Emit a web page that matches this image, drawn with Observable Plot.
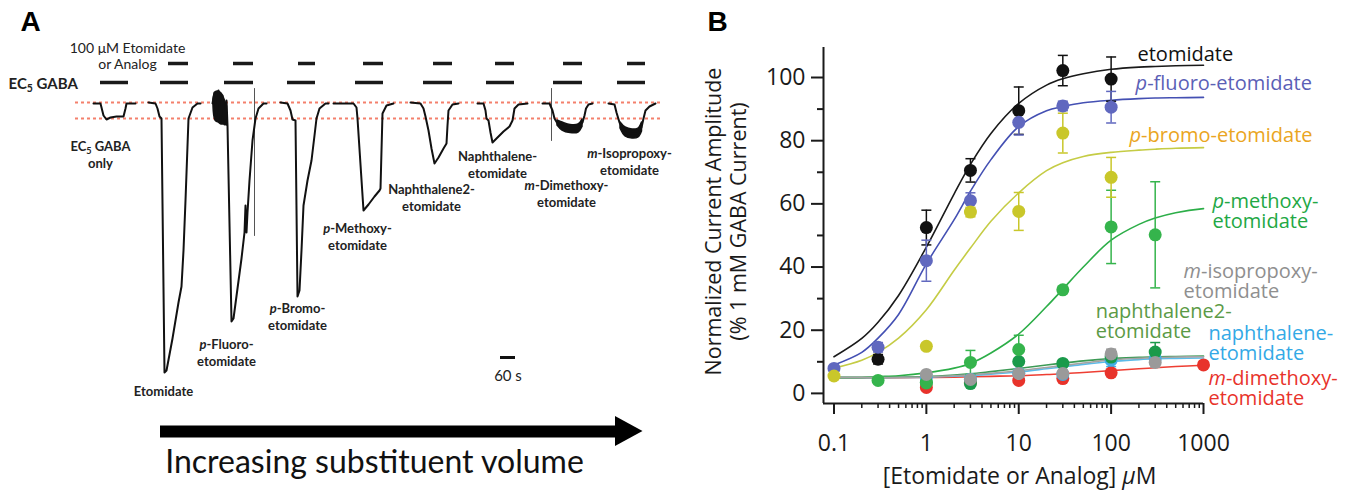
<!DOCTYPE html>
<html><head><meta charset="utf-8">
<script src="https://cdn.jsdelivr.net/npm/d3@7"></script>
<script src="https://cdn.jsdelivr.net/npm/@observablehq/plot@0.6"></script>
<style>
html,body{margin:0;padding:0;background:#fff;}
#wrap{display:flex;width:1356px;height:496px;overflow:hidden;background:#fff;}
#wrap svg{display:block;flex:none;}
</style></head><body><div id="wrap"></div>
<script>
// ================= Panel A data: recorded current traces =================
// time in s, current in nA (baseline = 0, inward current negative)
const ec5OnlyTrace = [[372,0],[400,0],[412,-120],[424,-160],[440,-140],[464,-130],[492,-130],[500,-50],[504,0],[540,0]];
const etomidateTrace = [[592,10],[620,0],[628,-50],[636,-130],[644,-150],[656,-2690],[664,-2670],[688,-2350],[712,-1990],[724,-1830],[732,-1470],[740,-970],[752,-150],[768,-40],[788,0],[800,0]];
const pFluoroTrace = [[848,0],[856,110],[864,-120],[872,130],[880,-170],[888,80],[896,-210],[904,30],[908,-220],[924,-2180],[932,-2150],[948,-1850],[964,-1550],[976,-1290],[980,-1020],[984,-1290],[988,-1090],[996,-770],[1008,-370],[1020,-150],[1032,-50],[1052,0],[1064,0]];
const pBromoTrace = [[1120,10],[1148,0],[1160,-70],[1168,-160],[1180,-170],[1188,-1930],[1196,-1870],[1204,-1470],[1212,-1020],[1228,-770],[1244,-570],[1256,-320],[1264,-150],[1276,-50],[1300,0],[1312,0]];
const pMethoxyTrace = [[1332,0],[1412,0],[1424,-40],[1428,-150],[1452,-1070],[1472,-1010],[1496,-930],[1516,-870],[1520,-850],[1524,-470],[1528,-100],[1544,-20],[1572,0]];
const naphthalene2Trace = [[1640,10],[1680,0],[1692,-50],[1700,-130],[1712,-270],[1724,-450],[1736,-600],[1752,-540],[1772,-450],[1784,-400],[1788,-220],[1792,-70],[1808,-10],[1832,0]];
const naphthaleneTrace = [[1908,0],[1932,0],[1940,-70],[1944,-150],[1952,-170],[1960,-290],[1968,-390],[1988,-340],[2012,-280],[2036,-230],[2048,-170],[2056,-50],[2072,-10],[2108,0]];
const mDimethoxyTrace = [[2168,0],[2196,0],[2208,-70],[2216,-150],[2228,-200],[2248,-230],[2280,-250],[2312,-245],[2328,-190],[2336,-120],[2342,-50],[2352,-10],[2368,0]];
const mIsopropoxyTrace = [[2432,0],[2456,-10],[2464,-90],[2476,-190],[2492,-270],[2504,-300],[2528,-305],[2552,-295],[2564,-240],[2572,-150],[2580,-70],[2596,-30],[2620,0]];
const artifactSpikes = [[[1016,150],[1016,-1320]], [[2204,150],[2204,-370]]];
// current-noise envelopes [t, low, high]
const pFluoroNoise = [[852,-30,40],[860,-170,110],[872,-190,120],[884,-210,100],[896,-210,40],[906,-220,-30]];
const mDimethoxyNoise = [[2228,-220,-170],[2248,-270,-190],[2280,-295,-215],[2312,-290,-210],[2328,-235,-160]];
const mIsopropoxyNoise = [[2480,-250,-190],[2500,-330,-240],[2528,-350,-260],[2552,-340,-250],[2566,-280,-190]];
// application periods [start, end] in s
const gabaApplications = [[400,512],[640,752],[896,1012],[1148,1260],[1420,1532],[1692,1808],[1944,2056],[2212,2328],[2468,2580]];
const drugApplications = [[672,752],[932,1012],[1192,1260],[1452,1532],[1732,1808],[1980,2056],[2252,2328],[2508,2580]];
const referenceLevels = [10, -150];      // baseline and EC5 response level (nA)
const referenceSpan = [300, 2648];       // s
const scaleBar = {start: 2000, seconds: 60, level: -2540};
const traceLabels = [
  {t: 400,  i: -510,  text: "EC5 GABA\nonly"},
  {t: 652,  i: -2870, text: "Etomidate"},
  {t: 904,  i: -2490, text: "p-Fluoro-\netomidate"},
  {t: 1188, i: -2130, text: "p-Bromo-\netomidate"},
  {t: 1428, i: -1330, text: "p-Methoxy-\netomidate"},
  {t: 1724, i: -940,  text: "Naphthalene2-\netomidate"},
  {t: 1988, i: -610,  text: "Naphthalene-\netomidate"},
  {t: 2264, i: -900,  text: "m-Dimethoxy-\netomidate"},
  {t: 2516, i: -580,  text: "m-Isopropoxy-\netomidate"}
];

// ================= Panel B data: concentration–response =================
const curveConc = [0.1,0.2,0.3,0.5,1,2,3,5,10,20,30,50,100,200,300,500,1000];

const etoConc = [0.3, 1, 3, 10, 30, 100];
const etoMean = [10.8, 52.5, 70.6, 89.5, 102.2, 99.5];
const etoErr  = [1.5, 5.5, 3.7, 7.5, 4.8, 7];
const etoCurve = [11.6,17.4,22.5,31,46.3,63.2,72.5,82.3,91.8,97.6,99.6,101.2,102.6,103.3,103.5,103.7,103.9];

const pfConc = [0.1, 0.3, 1, 3, 10, 30, 100];
const pfMean = [7.9, 14.6, 42, 61, 85.8, 91, 90.6];
const pfErr  = [1, 1.5, 6.5, 2.5, 4, 1.5, 5];
const pfCurve = [9,13,17.5,25,41,55,64,74,84.5,89.5,90.8,92,92.8,93.3,93.5,93.6,93.7];

const pbConc = [0.1, 1, 3, 10, 30, 100];
const pbMean = [5.5, 14.9, 57.4, 57.6, 82.4, 68.4];
const pbErr  = [0.8, 1, 1.5, 6, 6.3, 6.3];
const pbCurve = [8,10.5,13,17.5,26.5,39,46,54.5,63.5,70.5,73,75,76.3,77,77.3,77.6,77.8];

const pmConc = [0.3, 1, 3, 10, 30, 100, 300];
const pmMean = [4.1, 3.3, 9.8, 13.9, 32.8, 52.7, 50.2];
const pmErr  = [0.8, 0.8, 3.8, 4.5, 1, 11.6, 16.8];
const pmCurve = [5,5.05,5.3,5.6,6.5,8,9.5,12.8,18.8,27.5,33,40,48.5,53.5,55.5,57.2,58.5];

const n2Conc = [1, 3, 10, 30, 100, 300];
const n2Mean = [3.5, 3.1, 10.1, 9.5, 11.5, 13.1];
const n2Err  = [0.8, 0.8, 1, 1, 1, 3];
const n2Curve = [5,5,5.05,5.1,5.3,5.8,6.2,6.9,7.9,9,9.6,10.3,11,11.4,11.6,11.7,11.8];

const nConc = [1, 3, 10, 30, 100, 300];
const nMean = [5, 4.5, 6.4, 6, 10.5, 11];
const nErr  = [0.5, 0.5, 0.8, 0.8, 2, 1];
const nCurve = [5,5,5,5.05,5.15,5.45,5.7,6.1,6.8,7.8,8.4,9.2,10.1,10.7,11,11.1,11.2];

const ipConc = [1, 3, 10, 30, 100, 300];
const ipMean = [6, 4.4, 6.3, 6.3, 12.5, 9.8];
const ipErr  = [0.5, 0.5, 1, 1, 1.5, 1.5];
const ipCurve = [5,5,5,5.05,5.2,5.6,5.9,6.4,7.2,8.2,8.8,9.6,10.6,11.1,11.3,11.5,11.6];

const dmConc = [1, 3, 10, 30, 100, 1000];
const dmMean = [1.9, 3.5, 4.1, 4.7, 6.5, 9.0];
const dmErr  = [0.5, 0.5, 0.5, 0.5, 0.8, 0.8];
const dmCurve = [5,5,5,5,5.05,5.15,5.25,5.4,5.6,6,6.2,6.6,7.2,7.8,8.1,8.5,8.9];

const seriesLabels = [
  {c: 193, v: 107.3, text: "etomidate", color: "#111111"},
  {c: 184, v: 98.1, text: "p-fluoro-etomidate", color: "#5b60b6"},
  {c: 158, v: 81.6, text: "p-bromo-etomidate", color: "#eaa522"},
  {c: 1250, v: 57.6, text: "p-methoxy-\netomidate", color: "#22a844"},
  {c: 608, v: 35.3, text: "m-isopropoxy-\netomidate", color: "#8f8f8f"},
  {c: 68, v: 22.6, text: "naphthalene2-\netomidate", color: "#5b9a46"},
  {c: 1132, v: 15.8, text: "naphthalene-\netomidate", color: "#33a9e6"},
  {c: 1132, v: 1.6, text: "m-dimethoxy-\netomidate", color: "#e8332b"}
];
const yMajor = [0, 20, 40, 60, 80, 100];
const yMinor = [10, 30, 50, 70, 90];
const xMajor = [0.1, 1, 10, 100, 1000];
const xMinor = [0.2,0.3,0.4,0.5,0.6,0.7,0.8,0.9,2,3,4,5,6,7,8,9,20,30,40,50,60,70,80,90,200,300,400,500,600,700,800,900];

// ================= helpers =================
const NS = "http://www.w3.org/2000/svg";
function richText(svg, italicMu) {
  const walker = document.createTreeWalker(svg, NodeFilter.SHOW_TEXT);
  const nodes = []; while (walker.nextNode()) nodes.push(walker.currentNode);
  const mk = (txt, attrs) => { const e = document.createElementNS(NS, "tspan"); for (const k in attrs) e.setAttribute(k, attrs[k]); e.textContent = txt; return e; };
  for (const n of nodes) {
    const s = n.data, p = n.parentNode; let m;
    if ((m = s.match(/^([pm])(-.*)$/))) {
      p.insertBefore(mk(m[1], {"font-style": "italic"}), n); n.data = m[2];
    } else if (s.startsWith("EC5")) {
      p.insertBefore(document.createTextNode("EC"), n);
      p.insertBefore(mk("5", {"font-size": "70%", dy: "3"}), n);
      p.insertBefore(mk(s.slice(3), {dy: "-3"}), n);
      p.removeChild(n);
    } else if (italicMu && s.includes("μM")) {
      const k = s.indexOf("μ");
      p.insertBefore(document.createTextNode(s.slice(0, k)), n);
      p.insertBefore(mk("μ", {"font-style": "italic"}), n);
      n.data = s.slice(k + 1);
    }
  }
}
const capSymbol = {draw(ctx, size) { const w = Math.sqrt(size / Math.PI); ctx.moveTo(-w, 0); ctx.lineTo(w, 0); }};

// ================= Panel A =================
const traces = [ec5OnlyTrace, etomidateTrace, pFluoroTrace, pBromoTrace, pMethoxyTrace, naphthalene2Trace, naphthaleneTrace, mDimethoxyTrace, mIsopropoxyTrace];
const noises = [pFluoroNoise, mDimethoxyNoise, mIsopropoxyNoise];
const plotA = Plot.plot({
  width: 680, height: 496, margin: 0,
  x: {domain: [0, 2720], axis: null}, y: {domain: [-3930, 1030], axis: null},
  style: {fontFamily: "Lato", background: "white", overflow: "visible", maxWidth: "none"},
  marks: [
    Plot.ruleY(referenceLevels, {y: d => d, x1: referenceSpan[0], x2: referenceSpan[1], stroke: "#f4806c", strokeWidth: 1.8, strokeDasharray: "3,3"}),
    Plot.ruleY(gabaApplications, {x1: d => d[0], x2: d => d[1], y: 210, stroke: "#1a1a1a", strokeWidth: 3.5}),
    Plot.ruleY(drugApplications, {x1: d => d[0], x2: d => d[1], y: 400, stroke: "#1a1a1a", strokeWidth: 3.5}),
    ...artifactSpikes.map(s => Plot.line(s, {x: d => d[0], y: d => d[1], stroke: "#555", strokeWidth: 1})),
    ...noises.map(nz => Plot.areaY(nz, {x: d => d[0], y1: d => d[1], y2: d => d[2], fill: "#111", stroke: "#111", strokeWidth: 1.5, curve: "catmull-rom"})),
    ...traces.map(tr => Plot.line(tr, {x: d => d[0], y: d => d[1], stroke: "#111", strokeWidth: 2, strokeLinejoin: "round"})),
    Plot.ruleY([scaleBar], {x1: d => d.start, x2: d => d.start + d.seconds, y: d => d.level, stroke: "#111", strokeWidth: 3}),
    Plot.text([scaleBar], {x: d => d.start + d.seconds / 2, y: d => d.level, text: d => `${d.seconds} s`, dy: 19, fontSize: 15, fill: "#222"}),
    Plot.text(traceLabels, {x: "t", y: "i", text: "text", fontSize: 13, fontWeight: "bold", fill: "#222", lineHeight: 1.3}),
    Plot.text(["100 μM Etomidate\nor Analog"], {x: 508, y: 480, fontSize: 14, fill: "#222", lineHeight: 1.15}),
    Plot.text(["EC5 GABA"], {x: 32, y: 190, textAnchor: "start", fontSize: 15, fontWeight: "bold", fill: "#222"}),
    // arrow: increasing substituent volume
    Plot.ruleY([-3280], {x1: 640, x2: 2470, stroke: "#000", strokeWidth: 12}),
    Plot.areaY([{t: 2460, lo: -3430, hi: -3130}, {t: 2570, lo: -3280, hi: -3280}], {x: "t", y1: "lo", y2: "hi", fill: "#000"}),
    Plot.text(["Increasing substituent volume"], {x: 1496, y: -3590, fontSize: 32, fill: "#111"}),
    Plot.text(["A"], {frameAnchor: "top-left", dx: 30, dy: 22, textAnchor: "middle", lineAnchor: "middle", fontSize: 28, fontWeight: "bold", fontFamily: "Liberation Sans", fill: "#000"})
  ]
});

// ================= Panel B =================
const seriesB = [
  {conc: dmConc, mean: dmMean, err: dmErr, curve: dmCurve, dot: "#e8332b", line: "#ee3e33"},
  {conc: nConc, mean: nMean, err: nErr, curve: nCurve, dot: "#42aee6", line: "#5bbbe9"},
  {conc: n2Conc, mean: n2Mean, err: n2Err, curve: n2Curve, dot: "#1a9a4a", line: "#3c9a55"},
  {conc: pmConc, mean: pmMean, err: pmErr, curve: pmCurve, dot: "#35b44c", line: "#2cae48"},
  {conc: etoConc, mean: etoMean, err: etoErr, curve: etoCurve, dot: "#111111", line: "#1a1a1a"},
  {conc: pfConc, mean: pfMean, err: pfErr, curve: pfCurve, dot: "#6068bf", line: "#4450b3"},
  {conc: pbConc, mean: pbMean, err: pbErr, curve: pbCurve, dot: "#c9c72a", line: "#c5cc45"},
  {conc: ipConc, mean: ipMean, err: ipErr, curve: ipCurve, dot: "#9a9a9a", line: "#a3a3a3"}
];
const pts = s => s.conc.map((c, k) => ({c, v: s.mean[k], e: s.err[k]}));
const crv = s => curveConc.map((c, k) => ({c, v: s.curve[k]}));
const xDom = [0.077, 1000], yDom = [-3.2, 109.5];

const plotB = Plot.plot({
  width: 676, height: 496, marginLeft: 143, marginRight: 153, marginTop: 47, marginBottom: 93,
  x: {type: "log", domain: xDom}, y: {domain: yDom},
  style: {fontFamily: "Open Sans", background: "white", overflow: "visible", maxWidth: "none", color: "#1a1a1a"},
  marks: [
    Plot.axisY({ticks: yMajor, tickSize: 12, tickPadding: 6, fontSize: 23, label: null, strokeWidth: 2}),
    Plot.axisY({ticks: yMinor, tickSize: 6, tickFormat: () => "", label: null, strokeWidth: 2}),
    Plot.axisX({ticks: xMajor, tickSize: 11, tickPadding: 20, fontSize: 23, label: null, tickFormat: d => String(d), strokeWidth: 2}),
    Plot.axisX({ticks: xMinor, tickSize: 5, tickFormat: () => "", label: null, strokeWidth: 1.5}),
    Plot.ruleX([xDom[0]], {strokeWidth: 2}),
    Plot.ruleY([yDom[0]], {strokeWidth: 2}),
    ...seriesB.map(s => Plot.line(crv(s), {x: "c", y: "v", stroke: s.line, strokeWidth: 1.6, curve: "catmull-rom"})),
    ...seriesB.flatMap(s => [
      Plot.ruleX(pts(s), {x: "c", y1: d => d.v - d.e, y2: d => d.v + d.e, stroke: s.dot, strokeWidth: 1.5}),
      Plot.dot(pts(s), {x: "c", y: d => d.v + d.e, symbol: capSymbol, r: 5, stroke: s.dot, fill: "none", strokeWidth: 1.5}),
      Plot.dot(pts(s), {x: "c", y: d => d.v - d.e, symbol: capSymbol, r: 5, stroke: s.dot, fill: "none", strokeWidth: 1.5})
    ]),
    ...seriesB.map(s => Plot.dot(pts(s), {x: "c", y: "v", r: 6.5, fill: s.dot, stroke: "none"})),
    ...seriesLabels.map(l => Plot.text([l], {x: "c", y: "v", text: "text", fill: l.color, textAnchor: "start", lineAnchor: "middle", fontSize: 20, lineHeight: 1.0})),
    Plot.text(["Normalized Current Amplitude\n(% 1 mM GABA Current)"], {frameAnchor: "left", rotate: -90, dx: -98, dy: -4, textAnchor: "middle", lineAnchor: "middle", fontSize: 21.5, lineHeight: 1.16, fill: "#1a1a1a"}),
    Plot.text(["[Etomidate or Analog] μM"], {frameAnchor: "bottom", dx: 6, dy: 73, textAnchor: "middle", lineAnchor: "middle", fontSize: 23, fill: "#1a1a1a"}),
    Plot.text(["B"], {frameAnchor: "top-left", dx: -106, dy: -25, textAnchor: "middle", lineAnchor: "middle", fontSize: 28, fontWeight: "bold", fontFamily: "Liberation Sans", fill: "#000"})
  ]
});

richText(plotA, false);
richText(plotB, true);
const wrap = document.getElementById("wrap");
wrap.appendChild(plotA);
wrap.appendChild(plotB);
</script>
</body></html>
